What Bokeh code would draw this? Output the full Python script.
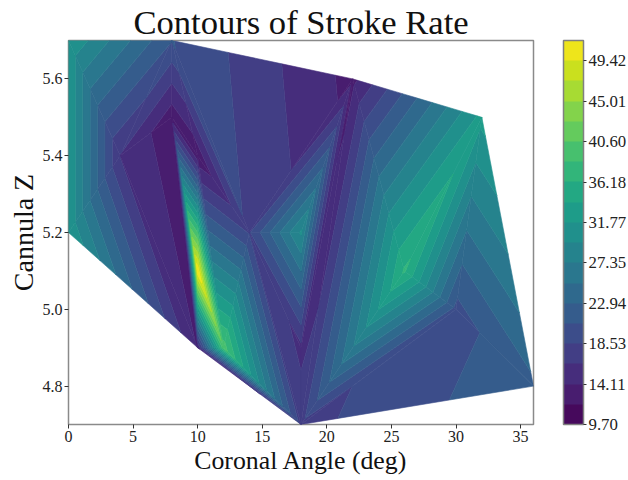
from bokeh.embed import file_html
from bokeh.resources import INLINE
from bokeh.plotting import figure
from bokeh.models import (ColorBar, LinearColorMapper, FixedTicker, PrintfTickFormatter,
                          Range1d, Title, LinearAxis)
from bokeh.palettes import Viridis256

# Measured nodes of the triangulated field
x_nodes = [0, 8, 22, 32, 36, 18, 10, 0, 4, 8, 10, 10, 14, 12, 18, 18, 26, 30]
y_nodes = [5.7, 5.7, 5.6, 5.5, 4.8, 4.7, 4.9, 5.2, 5.4, 5.5, 5.4, 5.1, 5.2, 4.9, 5.2, 4.9, 5.1, 5.0]
z_nodes = [31.6, 20.85, 13.4, 32.5, 22.4, 17.8, 14.05, 31.6, 16.2, 12.7, 12.5, 51.3,
           18.3, 39.5, 29.9, 15.7, 36.5, 20.0]
triangles = [(0, 8, 7), (0, 1, 8), (8, 1, 9), (1, 9, 10), (1, 10, 12), (1, 12, 2), (12, 2, 14),
             (14, 2, 15), (12, 14, 15), (12, 15, 5), (15, 2, 5), (5, 2, 16), (2, 16, 3),
             (16, 17, 3), (17, 3, 4), (5, 16, 17), (5, 17, 4), (12, 5, 13), (13, 5, 6),
             (11, 13, 6), (10, 13, 12), (10, 11, 13), (9, 10, 11), (9, 11, 6), (8, 9, 6), (8, 6, 7)]
level_min = 9.70
level_step = 2.2072
n_bands = 19
levels = [level_min + i * level_step for i in range(n_bands + 1)]
x_ticks = [0, 5, 10, 15, 20, 25, 30, 35]
y_ticks = [4.8, 5.0, 5.2, 5.4, 5.6]
cb_ticks = [9.70, 14.11, 18.53, 22.94, 27.35, 31.77, 36.18, 40.60, 45.01, 49.42]

FONT = "Liberation Serif"


def band_color(k):
    mid = 0.5 * (levels[k] + levels[k + 1])
    frac = (mid - levels[0]) / (levels[-1] - levels[0])
    return Viridis256[min(255, int(frac * 256))]


def clip(poly, level, keep_above):
    out = []
    n = len(poly)
    for i in range(n):
        a, b = poly[i], poly[(i + 1) % n]
        ina = (a[2] >= level) if keep_above else (a[2] <= level)
        inb = (b[2] >= level) if keep_above else (b[2] <= level)
        if ina:
            out.append(a)
        if ina != inb:
            t = (level - a[2]) / (b[2] - a[2])
            out.append((a[0] + t * (b[0] - a[0]), a[1] + t * (b[1] - a[1]), level))
    return out


xs, ys, cols = [], [], []
for k in range(n_bands):
    for tri in triangles:
        poly = [(x_nodes[i], y_nodes[i], z_nodes[i]) for i in tri]
        poly = clip(poly, levels[k], True)
        if len(poly) >= 3:
            poly = clip(poly, levels[k + 1], False)
        if len(poly) >= 3:
            xs.append([q[0] for q in poly])
            ys.append([q[1] for q in poly])
            cols.append(band_color(k))

p = figure(width=620, height=464, frame_width=465, frame_height=384,
           x_range=Range1d(0, 36), y_range=Range1d(4.7, 5.7),
           output_backend="svg", toolbar_location=None,
           min_border_left=60, min_border_top=0, min_border_right=95, min_border_bottom=0)
p.patches(xs, ys, fill_color=cols, line_color=cols, line_width=0.6, line_join="round")

p.title = Title(text="Contours of Stroke Rate", align="center", text_font=FONT,
                text_font_size="34.6px", text_font_style="normal", text_color="#111111",
                standoff=0, text_line_height=0.68)
p.grid.visible = False
p.outline_line_color = "#8a8a8a"
p.outline_line_width = 1.5

for ax, ticks in ((p.xaxis[0], x_ticks), (p.yaxis[0], y_ticks)):
    ax.ticker = FixedTicker(ticks=ticks)
    ax.axis_line_color = None
    ax.major_tick_in = 0
    ax.major_tick_out = 4
    ax.minor_tick_line_color = None
    ax.major_tick_line_color = "#333333"
    ax.major_label_text_font = FONT
    ax.major_label_text_font_size = "16px"
    ax.major_label_text_color = "#222222"
    ax.major_label_standoff = 2
    ax.axis_label_text_font = FONT
    ax.axis_label_text_font_style = "normal"
    ax.axis_label_text_color = "#111111"
    ax.axis_label_standoff = 1
p.xaxis[0].axis_label = "Coronal Angle (deg)"
p.yaxis[0].axis_label = "Cannula Z"
p.xaxis[0].axis_label_text_font_size = "25.8px"
p.yaxis[0].axis_label_text_font_size = "28px"
p.yaxis[0].major_label_orientation = "horizontal"
p.xaxis[0].formatter = PrintfTickFormatter(format="%d")
p.yaxis[0].formatter = PrintfTickFormatter(format="%.1f")

# An outer left title with a blank text only widens the left panel
p.add_layout(Title(text=" ", text_font_size="2px", standoff=0), "left")

mapper = LinearColorMapper(palette=[band_color(k) for k in range(n_bands)],
                           low=levels[0], high=levels[-1])
cb = ColorBar(color_mapper=mapper, ticker=FixedTicker(ticks=cb_ticks),
              formatter=PrintfTickFormatter(format="%.2f"),
              width=20, height=384, padding=0, margin=0, location=(495, 0),
              major_tick_in=0, major_tick_out=3,
              major_tick_line_color="#333333", minor_tick_line_color=None,
              bar_line_color="#808080", bar_line_width=1.5,
              background_fill_color=None, border_line_color=None,
              major_label_text_font=FONT, major_label_text_font_size="16.8px",
              major_label_text_color="#222222", label_standoff=2)
p.add_layout(cb)

open("out.html", "w").write(file_html(p, INLINE))
